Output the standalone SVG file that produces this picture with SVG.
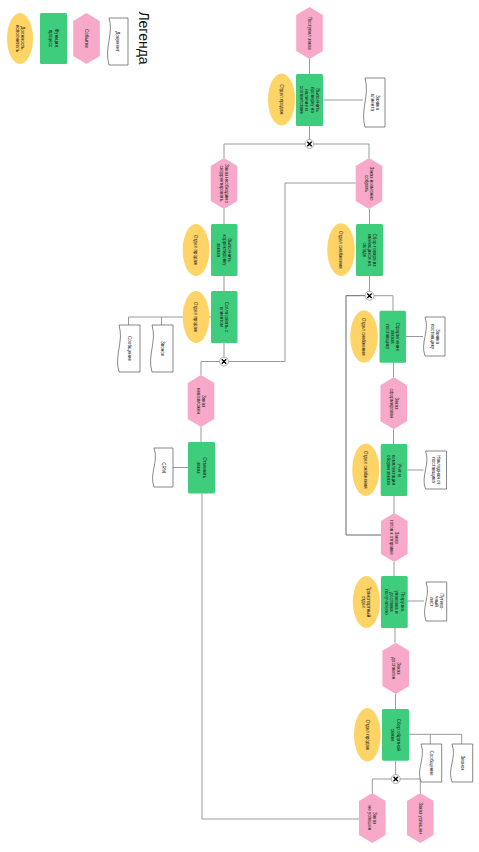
<svg xmlns="http://www.w3.org/2000/svg" xmlns:xlink="http://www.w3.org/1999/xlink" width="479" height="852" viewBox="0 0 479 852">
<style>
.ev{fill:#F8A9C9}
.fn{fill:#3ECD7D}
.ro{fill:#FDD465}
.doc{fill:#fff;stroke:#555;stroke-width:0.7}
.t{font-family:"Liberation Sans",Arial,sans-serif;font-size:4.6px;fill:#222;text-anchor:middle}
.c{fill:none;stroke:#999;stroke-width:1}
.c2{fill:none;stroke:#666;stroke-width:1}
</style>
<defs>
<g id="xor"><circle r="4.5" fill="#fff" stroke="#999" stroke-width="0.8"/><path d="M-2.2,-2.2 L2.2,2.2 M2.2,-2.2 L-2.2,2.2" stroke="#000" stroke-width="1.4"/></g>
</defs>
<rect width="479" height="852" fill="#fff"/>

<g id="legend">
<ellipse class="ro" cx="20" cy="38.5" rx="13" ry="25.5"/>
<text class="t" transform="rotate(90 20 38.5)" x="20" y="38.5"><tspan x="20" dy="-1">Должность,</tspan><tspan x="20" dy="5.2">исполнитель</tspan></text>
<rect class="fn" x="40" y="13" width="27" height="51" rx="1.5"/>
<text class="t" transform="rotate(90 53.5 38.5)" x="53.5" y="38.5"><tspan x="53.5" dy="-1">Функция,</tspan><tspan x="53.5" dy="5.2">процесс</tspan></text>
<polygon class="ev" points="86.5,13 99.8,21 99.8,56 86.5,64 73.2,56 73.2,21"/>
<text class="t" transform="rotate(90 86.5 38.5)" x="86.5" y="40.1">Событие</text>
<path class="doc" d="M109,18 H128 V65 H109 C104,48.6 114,32.5 109,18 Z"/>
<text class="t" transform="rotate(90 118 41.5)" x="118" y="43.1">Документ</text>
<text transform="rotate(90 144 38)" x="144" y="43" style="font-family:'Liberation Sans',Arial,sans-serif;font-size:14px;fill:#111;text-anchor:middle">Легенда</text>
</g>

<g id="connectors">
<path class="c" d="M309.5,59 V74"/>
<path class="c" d="M323,100 H363"/>
<path class="c" d="M309.5,126 V144"/>
<path class="c" d="M309.5,144 H224 V158"/>
<path class="c" d="M309.5,144 H369 V158"/>
<path class="c" d="M224,209 V224"/>
<path class="c" d="M224,276 V291"/>
<path class="c" d="M211,317 H128.5 V325"/>
<path class="c" d="M161.5,317 V325"/>
<path class="c" d="M224,343 V361.5"/>
<path class="c" d="M224,361.5 H201 V375"/>
<path class="c" d="M224,361.5 H285 V183 H356"/>
<path class="c" d="M201,427 V442"/>
<path class="c" d="M188,467.5 H173"/>
<path class="c" d="M202,493.5 V819 H359"/>
<path class="c" d="M369.5,209 V224"/>
<path class="c" d="M369.5,276 V295.7"/>
<path class="c2" d="M369.5,295.7 H346 V535 H381"/>
<path class="c" d="M369.5,295.7 H393 V310.7"/>
<path class="c" d="M406,336.5 H423"/>
<path class="c" d="M393.5,362.7 V377.3"/>
<path class="c" d="M393.5,429.3 V444"/>
<path class="c" d="M407.3,470 H423.5"/>
<path class="c" d="M394,496 V513"/>
<path class="c" d="M394,562 V576"/>
<path class="c" d="M407.7,601 H424"/>
<path class="c" d="M395,628 V642.7"/>
<path class="c" d="M395.5,694 V709"/>
<path class="c" d="M409,734.3 H461.7 V744"/>
<path class="c" d="M430.3,734.3 V744"/>
<path class="c" d="M395.7,760.7 V779"/>
<path class="c" d="M395.7,779 H372.3 V793"/>
<path class="c" d="M395.7,779 H420.3 V793"/>
<use xlink:href="#xor" x="309.5" y="144"/>
<use xlink:href="#xor" x="224" y="361.5"/>
<use xlink:href="#xor" x="369.5" y="295.7"/>
<use xlink:href="#xor" x="395.7" y="779"/>
</g>

<g id="e1">
<polygon class="ev" points="309.5,7 322.8,15 322.8,51 309.5,59 296.2,51 296.2,15"/>
<text class="t" transform="rotate(90 309.5 33)" x="309.5" y="34.6">Поступил заказ</text>
</g>
<g id="f1">
<rect class="fn" x="296" y="74" width="27" height="52" rx="1.5"/>
<text class="t" transform="rotate(90 309.5 100)" x="309.5" y="100"><tspan x="309.5" dy="-6.2">Выполнить</tspan><tspan x="309.5" dy="5.2">проверку на</tspan><tspan x="309.5" dy="5.2">наличие и</tspan><tspan x="309.5" dy="5.2">соответствие</tspan></text>
</g>
<g id="r1">
<ellipse class="ro" cx="281.5" cy="99.5" rx="13.5" ry="26"/>
<text class="t" transform="rotate(90 281.5 99.5)" x="281.5" y="101.1">Отдел продаж</text>
</g>
<g id="d1">
<path class="doc" d="M365,78 H385 V127 H365 C360,109.9 370,95.2 365,78 Z"/>
<text class="t" transform="rotate(90 375 102.5)" x="375" y="102.5"><tspan x="375" dy="-1">Заявка</tspan><tspan x="375" dy="5.2">клиента</tspan></text>
</g>

<g id="e2">
<polygon class="ev" points="224,158 237.3,166 237.3,201 224,209 210.7,201 210.7,166"/>
<text class="t" transform="rotate(90 224 183.5)" x="224" y="183.5"><tspan x="224" dy="-1">Заказ необходимо</tspan><tspan x="224" dy="5.2">скорректировать</tspan></text>
</g>
<g id="e3">
<polygon class="ev" points="369,158 382.3,166 382.3,201 369,209 355.7,201 355.7,166"/>
<text class="t" transform="rotate(90 369 183.5)" x="369" y="183.5"><tspan x="369" dy="-1">Заказ возможно</tspan><tspan x="369" dy="5.2">собрать</tspan></text>
</g>

<g id="f2">
<rect class="fn" x="211" y="224" width="26.5" height="52" rx="1.5"/>
<text class="t" transform="rotate(90 224.2 250)" x="224.2" y="250"><tspan x="224.2" dy="-3.6">Выполнить</tspan><tspan x="224.2" dy="5.2">корректировку</tspan><tspan x="224.2" dy="5.2">заказа</tspan></text>
</g>
<g id="r2">
<ellipse class="ro" cx="196" cy="250" rx="13.3" ry="26"/>
<text class="t" transform="rotate(90 196 250)" x="196" y="251.6">Отдел продаж</text>
</g>
<g id="f3">
<rect class="fn" x="211" y="291" width="26.5" height="52" rx="1.5"/>
<text class="t" transform="rotate(90 224.2 317)" x="224.2" y="317"><tspan x="224.2" dy="-1">Согласовать с</tspan><tspan x="224.2" dy="5.2">клиентом</tspan></text>
</g>
<g id="r3">
<ellipse class="ro" cx="196" cy="317" rx="13.3" ry="26"/>
<text class="t" transform="rotate(90 196 317)" x="196" y="318.6">Отдел продаж</text>
</g>
<g id="d2">
<path class="doc" d="M119,325 H140 V372 H119 C114,355.6 124,341.5 119,325 Z"/>
<text class="t" transform="rotate(90 129.5 348.5)" x="129.5" y="350.1">Сообщение</text>
</g>
<g id="d3">
<path class="doc" d="M152,325 H173 V372 H152 C147,355.6 157,341.5 152,325 Z"/>
<text class="t" transform="rotate(90 162.5 348.5)" x="162.5" y="350.1">Звонок</text>
</g>

<g id="e4">
<polygon class="ev" points="201,375 214.3,383 214.3,419 201,427 187.7,419 187.7,383"/>
<text class="t" transform="rotate(90 201 401)" x="201" y="401"><tspan x="201" dy="-1">Заказ</tspan><tspan x="201" dy="5.2">невозможен</tspan></text>
</g>
<g id="f4">
<rect class="fn" x="188" y="442" width="27" height="51.5" rx="1.5"/>
<text class="t" transform="rotate(90 201.5 467.7)" x="201.5" y="467.7"><tspan x="201.5" dy="-1">Отменить</tspan><tspan x="201.5" dy="5.2">заказ</tspan></text>
</g>
<g id="d4">
<path class="doc" d="M154,448 H173 V487 H154 C149,473.4 159,461.7 154,448 Z"/>
<text class="t" transform="rotate(90 163.5 467.5)" x="163.5" y="469.1">CRM</text>
</g>

<g id="f5">
<rect class="fn" x="356" y="224" width="27" height="52" rx="1.5"/>
<text class="t" transform="rotate(90 369.5 250)" x="369.5" y="250"><tspan x="369.5" dy="-3.6">Сбор товара из</tspan><tspan x="369.5" dy="5.2">имеющихся на</tspan><tspan x="369.5" dy="5.2">складе</tspan></text>
</g>
<g id="r5">
<ellipse class="ro" cx="341" cy="249.6" rx="13.7" ry="26.4"/>
<text class="t" transform="rotate(90 341 249.6)" x="341" y="251.2">Отдел снабжения</text>
</g>

<g id="f6">
<rect class="fn" x="379.5" y="310.7" width="26.5" height="52" rx="1.5"/>
<text class="t" transform="rotate(90 392.7 336.7)" x="392.7" y="336.7"><tspan x="392.7" dy="-3.6">Оформление</tspan><tspan x="392.7" dy="5.2">заказа</tspan><tspan x="392.7" dy="5.2">поставщику</tspan></text>
</g>
<g id="r6">
<ellipse class="ro" cx="364" cy="336.5" rx="13.8" ry="26.3"/>
<text class="t" transform="rotate(90 364 336.5)" x="364" y="338.1">Отдел снабжения</text>
</g>
<g id="d6">
<path class="doc" d="M425,317 H445 V356 H425 C420,342.4 430,330.7 425,317 Z"/>
<text class="t" transform="rotate(90 435 336.5)" x="435" y="336.5"><tspan x="435" dy="-1">Заявка</tspan><tspan x="435" dy="5.2">поставщику</tspan></text>
</g>

<g id="e6">
<polygon class="ev" points="393.7,377.3 407,385.3 407,421.3 393.7,429.3 380.4,421.3 380.4,385.3"/>
<text class="t" transform="rotate(90 393.7 403.3)" x="393.7" y="403.3"><tspan x="393.7" dy="-1">Заказ</tspan><tspan x="393.7" dy="5.2">сформирован</tspan></text>
</g>
<g id="f7">
<rect class="fn" x="380.7" y="444" width="26.6" height="52" rx="1.5"/>
<text class="t" transform="rotate(90 394 470)" x="394" y="470"><tspan x="394" dy="-3.6">Учет и</tspan><tspan x="394" dy="5.2">комплектация</tspan><tspan x="394" dy="5.2">сборки заказа</tspan></text>
</g>
<g id="r7">
<ellipse class="ro" cx="365.8" cy="469.7" rx="13.5" ry="26.3"/>
<text class="t" transform="rotate(90 365.8 469.7)" x="365.8" y="471.3">Отдел снабжения</text>
</g>
<g id="d7">
<path class="doc" d="M425.5,451 H446.5 V489 H425.5 C420.5,475.7 430.5,464.3 425.5,451 Z"/>
<text class="t" transform="rotate(90 436 470)" x="436" y="470"><tspan x="436" dy="-1">Накладная от</tspan><tspan x="436" dy="5.2">поставщика</tspan></text>
</g>

<g id="e7">
<polygon class="ev" points="394.3,513 407.6,521 407.6,554 394.3,562 381,554 381,521"/>
<text class="t" transform="rotate(90 394.3 537.5)" x="394.3" y="537.5"><tspan x="394.3" dy="-1">Заказ</tspan><tspan x="394.3" dy="5.2">готов к отправке</tspan></text>
</g>
<g id="f8">
<rect class="fn" x="381" y="576" width="26.7" height="52" rx="1.5"/>
<text class="t" transform="rotate(90 394.3 602)" x="394.3" y="602"><tspan x="394.3" dy="-6.2">Погрузка,</tspan><tspan x="394.3" dy="5.2">упаковка и</tspan><tspan x="394.3" dy="5.2">доставка</tspan><tspan x="394.3" dy="5.2">получателю</tspan></text>
</g>
<g id="r8">
<ellipse class="ro" cx="366.4" cy="602" rx="13.6" ry="26"/>
<text class="t" transform="rotate(90 366.4 602)" x="366.4" y="602"><tspan x="366.4" dy="-1">Транспортный</tspan><tspan x="366.4" dy="5.2">отдел</tspan></text>
</g>
<g id="d8">
<path class="doc" d="M426,582 H446.7 V621 H426 C421,607.4 431,595.7 426,582 Z"/>
<text class="t" transform="rotate(90 436.5 601.5)" x="436.5" y="601.5"><tspan x="436.5" dy="-3.6">Путево-</tspan><tspan x="436.5" dy="5.2">чный</tspan><tspan x="436.5" dy="5.2">лист</tspan></text>
</g>

<g id="e9">
<polygon class="ev" points="395.7,642.7 409,650.7 409,686 395.7,694 382.4,686 382.4,650.7"/>
<text class="t" transform="rotate(90 395.7 668.3)" x="395.7" y="668.3"><tspan x="395.7" dy="-1">Заказ</tspan><tspan x="395.7" dy="5.2">доставлен</tspan></text>
</g>
<g id="f9">
<rect class="fn" x="382" y="709" width="27" height="51.7" rx="1.5"/>
<text class="t" transform="rotate(90 395.5 734.8)" x="395.5" y="734.8"><tspan x="395.5" dy="-1">Сбор обратной</tspan><tspan x="395.5" dy="5.2">связи</tspan></text>
</g>
<g id="r9">
<ellipse class="ro" cx="367.3" cy="734.8" rx="13.3" ry="26.7"/>
<text class="t" transform="rotate(90 367.3 734.8)" x="367.3" y="736.4">Отдел продаж</text>
</g>
<g id="d9">
<path class="doc" d="M421,744 H441.7 V782 H421 C416,768.7 426,757.3 421,744 Z"/>
<text class="t" transform="rotate(90 431.3 763)" x="431.3" y="764.6">Сообщение</text>
</g>
<g id="d10">
<path class="doc" d="M452,744 H472.7 V782 H452 C447,768.7 457,757.3 452,744 Z"/>
<text class="t" transform="rotate(90 462.3 763)" x="462.3" y="764.6">Звонок</text>
</g>

<g id="e8">
<polygon class="ev" points="372.3,793 385.6,801 385.6,835 372.3,843 359,835 359,801"/>
<text class="t" transform="rotate(90 372.3 818)" x="372.3" y="818"><tspan x="372.3" dy="-1">Заказ</tspan><tspan x="372.3" dy="5.2">не успешен</tspan></text>
</g>
<g id="e10">
<polygon class="ev" points="420.3,793 433.6,801 433.6,835 420.3,843 407,835 407,801"/>
<text class="t" transform="rotate(90 420.3 818)" x="420.3" y="819.6">Заказ успешен</text>
</g>
</svg>
